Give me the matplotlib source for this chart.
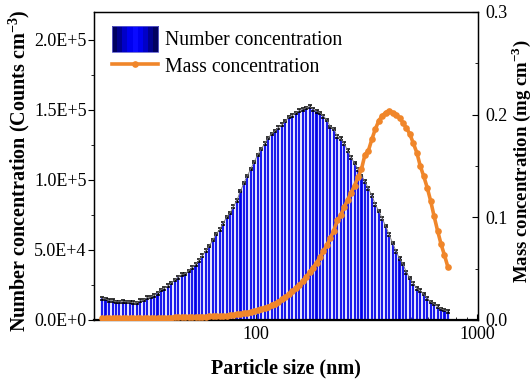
import numpy as np
import matplotlib
matplotlib.use("Agg")
import matplotlib.pyplot as plt
from matplotlib.patches import Rectangle
from matplotlib.legend_handler import HandlerBase
from matplotlib.ticker import LogLocator, NullFormatter, FixedLocator, MultipleLocator

plt.rcParams["font.family"] = ["Liberation Serif", "DejaVu Serif"]
plt.rcParams["mathtext.fontset"] = "custom"
plt.rcParams["mathtext.rm"] = "Liberation Serif"
plt.rcParams["mathtext.bf"] = "Liberation Serif:bold"

# particle size bins (nm), 64 channels / decade
diameter = [20.2, 20.9, 21.7, 22.5, 23.3, 24.1, 25.0, 25.9, 26.9, 27.9,
            28.9, 30.0, 31.1, 32.2, 33.4, 34.6, 35.9, 37.2, 38.5, 40.0,
            41.4, 42.9, 44.5, 46.1, 47.8, 49.6, 51.4, 53.3, 55.2, 57.3,
            59.4, 61.5, 63.8, 66.1, 68.5, 71.0, 73.7, 76.4, 79.1, 82.0,
            85.1, 88.2, 91.4, 94.7, 98.2, 101.8, 105.5, 109.4, 113.4, 117.6,
            121.9, 126.3, 131.0, 135.8, 140.7, 145.9, 151.2, 156.8, 162.5, 168.5,
            174.7, 181.1, 187.7, 194.6, 201.7, 209.1, 216.7, 224.7, 232.9, 241.4,
            250.3, 259.5, 269.0, 278.8, 289.0, 299.6, 310.6, 322.0, 333.8, 346.0,
            358.7, 371.8, 385.4, 399.5, 414.2, 429.4, 445.1, 461.4, 478.3, 495.8,
            514.0, 532.8, 552.3, 572.5, 593.5, 615.3, 637.8, 661.2, 685.4, 710.5,
            736.5]

# number concentration (counts cm-3)
number_conc = [15500, 15000, 14000, 13800, 13000, 13000, 13100, 13000, 12800, 12400,
               12200, 13800, 14200, 16000, 16300, 17500, 19000, 21500, 22500, 24500,
               26500, 28500, 30500, 32500, 33000, 35000, 37500, 39500, 42500, 46000,
               49500, 53000, 57000, 61500, 64500, 69000, 73500, 76500, 81000, 85500,
               92000, 98000, 103000, 108000, 113000, 118000, 122000, 126000, 130000, 133000,
               135000, 137500, 139500, 142000, 145000, 146000, 148000, 149500, 150500, 151500,
               152500, 150500, 149000, 148000, 145500, 143000, 138000, 136500, 131000, 129500,
               126000, 121000, 116000, 112000, 107500, 103000, 99000, 94000, 89000, 82500,
               78000, 72500, 67000, 61000, 55000, 49000, 44000, 40000, 34000, 30000,
               26000, 22500, 21000, 18500, 15500, 13000, 11500, 9500, 8000, 7000,
               6000]
number_err = 900

# mass concentration (mg cm-3)
mass_conc = [0.0015, 0.0015, 0.0015, 0.0015, 0.0015, 0.0015, 0.0015, 0.0015, 0.0016, 0.0016,
             0.0016, 0.0017, 0.0017, 0.0018, 0.0018, 0.0019, 0.0020, 0.0021, 0.0022, 0.0023,
             0.0024, 0.0025, 0.0026, 0.0027, 0.0028, 0.0029, 0.0030, 0.0031, 0.0032, 0.0033,
             0.0034, 0.0035, 0.0036, 0.0038, 0.0040, 0.0040, 0.0043, 0.0046, 0.0050, 0.0055,
             0.0060, 0.0066, 0.0073, 0.0080, 0.0088, 0.0097, 0.0107, 0.0118, 0.0130, 0.0145,
             0.0160, 0.0180, 0.0200, 0.0225, 0.0250, 0.0280, 0.0310, 0.0345, 0.0380, 0.0420,
             0.0465, 0.0510, 0.0560, 0.0610, 0.0670, 0.0730, 0.0800, 0.0870, 0.0970, 0.1020,
             0.1100, 0.1170, 0.1240, 0.1310, 0.1390, 0.1470, 0.1610, 0.1650, 0.1760, 0.1860,
             0.1940, 0.1990, 0.2020, 0.2040, 0.2020, 0.2000, 0.1970, 0.1920, 0.1870, 0.1810,
             0.1720, 0.1630, 0.1500, 0.1400, 0.1290, 0.1160, 0.1010, 0.0870, 0.0740, 0.0630,
             0.0515]

orange = "#f0862a"


class GradientHandler(HandlerBase):
    # blue bar handle with dark edges and bright centre
    def create_artists(self, legend, orig_handle, xdescent, ydescent,
                       width, height, fontsize, trans):
        cols = ["#000060", "#000090", "#0000c8", "#0000f0", "#0a0aff",
                "#0000f0", "#0000c8", "#000090", "#000060"]
        n = len(cols)
        arts = []
        for i, c in enumerate(cols):
            r = Rectangle((-xdescent + i * width / n, -ydescent - 3),
                          width / n + 0.3, height + 6, facecolor=c,
                          edgecolor="none", transform=trans)
            arts.append(r)
        frame = Rectangle((-xdescent, -ydescent - 3), width, height + 6,
                          facecolor="none", edgecolor="#6060d0", lw=0.6,
                          transform=trans)
        arts.append(frame)
        return arts


d = np.array(diameter)
half = 10 ** (0.6 / 64 / 2)
left = d / half
widths = d * half - left

fig = plt.figure(figsize=(5.32, 3.80), dpi=100)
ax = fig.add_axes([94.3 / 532, 1 - 320 / 380, (478.3 - 94.3) / 532, 308 / 380])

bars = ax.bar(left, number_conc, width=widths, align="edge",
              color="#0000e8", edgecolor="#8080ff", linewidth=0.3, zorder=2)
ax.errorbar(d, number_conc, yerr=number_err, fmt="none", ecolor="black",
            elinewidth=0.8, capsize=1.7, capthick=1.1, zorder=3)
ax.plot(d, number_conc, color="#777777", lw=0.6, zorder=3)

ax.set_xscale("log")
ax.set_xlim(18.6, 1010)
ax.set_ylim(0, 2.2e5)
ax.xaxis.set_major_locator(FixedLocator([100, 1000]))
ax.xaxis.set_minor_locator(LogLocator(base=10, subs=np.arange(2, 10)))
ax.xaxis.set_minor_formatter(NullFormatter())
ax.set_xticklabels(["100", "1000"])
ax.yaxis.set_minor_locator(MultipleLocator(2.5e4))
ax.set_yticks([0, 5e4, 1e5, 1.5e5, 2e5])
ax.set_yticklabels(["0.0E+0", "5.0E+4", "1.0E+5", "1.5E+5", "2.0E+5"])
ax.tick_params(axis="x", which="both", direction="in", top=False, labelsize=13)
ax.tick_params(axis="x", which="major", length=4, pad=4)
ax.tick_params(axis="x", which="minor", length=2.5)
ax.tick_params(axis="y", which="both", direction="out", labelsize=13, pad=1)
ax.tick_params(axis="y", which="major", length=4.5)
ax.tick_params(axis="y", which="minor", length=2.5)
for s in ax.spines.values():
    s.set_linewidth(1.0)
ax.spines["bottom"].set_linewidth(1.6)

ax.set_xlabel("Particle size (nm)", fontsize=14.5, fontweight="bold")
ax.xaxis.set_label_coords(0.498, -0.125)
ax.set_ylabel(r"Number concentration (Counts cm$^{\mathbf{-3}}$)", fontsize=14.5,
              fontweight="bold")
ax.yaxis.set_label_coords(-0.163, 0.484)

ax2 = ax.twinx()
line, = ax2.plot(d, mass_conc, color=orange, lw=2.6, marker="o",
                 markersize=4.8, markeredgewidth=0, zorder=4)
ax2.set_ylim(0, 0.3)
ax2.yaxis.set_minor_locator(MultipleLocator(0.05))
ax2.set_yticks([0, 0.1, 0.2, 0.3])
ax2.set_yticklabels(["0.0", "0.1", "0.2", "0.3"])
ax2.tick_params(axis="y", which="both", direction="in", labelsize=13, pad=5)
ax2.tick_params(axis="y", which="major", length=4)
ax2.tick_params(axis="y", which="minor", length=2.5)
ax2.set_ylabel(r"Mass concentration (mg cm$^{\mathbf{-3}}$)", fontsize=13.5,
               fontweight="bold")
ax2.yaxis.set_label_coords(1.08, 0.515)

leg = ax.legend([bars, line], ["Number concentration", "Mass concentration"],
                loc="upper left", frameon=False, fontsize=14.2,
                handlelength=2.35, handleheight=1.0, labelspacing=0.3,
                borderaxespad=0.5, handletextpad=0.35,
                handler_map={type(bars): GradientHandler()})

fig.savefig("out.png", dpi=100)
